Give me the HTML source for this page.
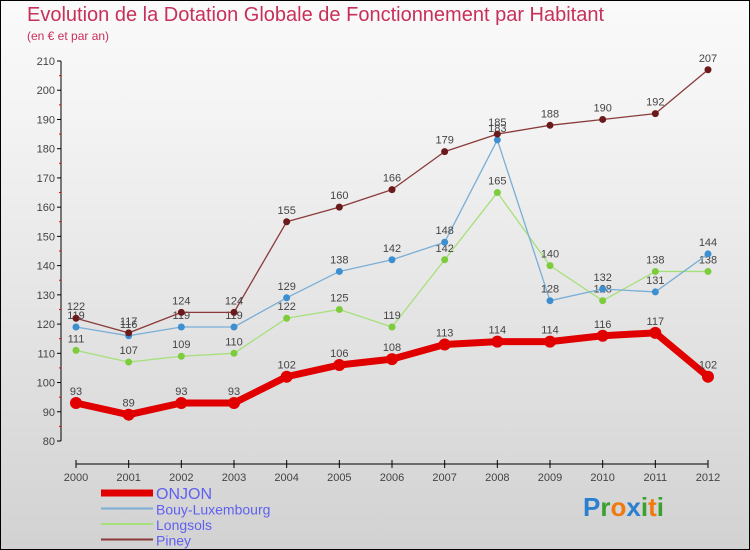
<!DOCTYPE html>
<html><head><meta charset="utf-8"><style>
html,body{margin:0;padding:0}
body{width:750px;height:550px;overflow:hidden;font-family:"Liberation Sans",sans-serif}
#wrap{position:relative;width:748px;height:548px;border:1px solid #000;background:linear-gradient(#fafafa,#f4f4f4 20%,#d2d2d2)}
.title{position:absolute;left:26px;top:3px;font-size:20px;color:#c8305a;white-space:nowrap}
.sub{position:absolute;left:26px;top:28px;font-size:12px;color:#c8305a}
</style></head><body>
<div id="wrap">
<div class="title">Evolution de la Dotation Globale de Fonctionnement par Habitant</div>
<div class="sub">(en € et par an)</div>
<svg id="chart" width="748" height="548" style="position:absolute;left:0;top:0"></svg>
</div>
<script>
const years=[2000,2001,2002,2003,2004,2005,2006,2007,2008,2009,2010,2011,2012];
const yTicks=[80,90,100,110,120,130,140,150,160,170,180,190,200,210];
const onjon=[93,89,93,93,102,106,108,113,114,114,116,117,102];
const bouy=[119,116,119,119,129,138,142,148,183,128,132,131,144];
const longsols=[111,107,109,110,122,125,119,142,165,140,128,138,138];
const piney=[122,117,124,124,155,160,166,179,185,188,190,192,207];
const seriesNames=["ONJON","Bouy-Luxembourg","Longsols","Piney"];

const NS="http://www.w3.org/2000/svg";
const svg=document.getElementById('chart');
const X=i=>75+i*(632/12);
const Y=v=>60+(210-v)*(380/130);
function mk(t,a,p){const e=document.createElementNS(NS,t);for(const k in a)e.setAttribute(k,a[k]);(p||svg).appendChild(e);return e;}

// axes
const ya=mk('line',{x1:60,y1:60,x2:60,y2:440,stroke:'#000','stroke-width':1});


yTicks.forEach(v=>{
  mk('line',{x1:56,y1:Y(v),x2:60,y2:Y(v),stroke:'#000'});
  if(v<210){mk('line',{x1:58,y1:Y(v+5),x2:60,y2:Y(v+5),stroke:'#e00'});}
  const t=mk('text',{x:54,y:Y(v)+4,'text-anchor':'end','font-size':11,fill:'#444'});
  t.textContent=v;
  
  
});
const xa=mk('line',{x1:75,y1:463,x2:707,y2:463,stroke:'#000'});


years.forEach((y,i)=>{
  mk('line',{x1:X(i),y1:459,x2:X(i),y2:467,stroke:'#000'});
  const t=mk('text',{x:X(i),y:480,'text-anchor':'middle','font-size':11,fill:'#444'});
  t.textContent=y;
  
  
});

function series(data,color,dot,w,r,name){
  const g=mk('g',{});
  
  
  mk('polyline',{points:data.map((v,i)=>X(i)+','+Y(v)).join(' '),fill:'none',stroke:color,'stroke-width':w,'stroke-linejoin':'round'},g);
  data.forEach((v,i)=>{
    const c=mk('circle',{cx:X(i),cy:Y(v),r:r,fill:dot},g);
    
    
    const t=mk('text',{x:X(i),y:Y(v)-8,'text-anchor':'middle','font-size':11,fill:'#444'},g);
    t.textContent=v;
    
    
  });
}
series(longsols,'#a6e07a','#7ccc3c',1.3,3.5,'longsols');
series(bouy,'#7aaed6','#3d8fd0',1.3,3.5,'bouy-luxembourg');
series(piney,'#8a3a3a','#6a1a1a',1.3,3.5,'piney');
series(onjon,'#e00000','#e00000',7,6,'onjon');

// legend
const leg=[['#e00000',7],['#7aaed6',2],['#a6e07a',2],['#8a3a3a',2]];
seriesNames.forEach((n,i)=>{
  const y=492+i*15.5;
  const l=mk('line',{x1:100,y1:y,x2:152,y2:y,stroke:leg[i][0],'stroke-width':leg[i][1]});
  
  
  const t=mk('text',{x:155,y:y+6,'font-size':i==0?16:14,fill:'#6060f0'});
  t.textContent=n;
  
  
});
// logo
const lg=mk('text',{x:582,y:515,'font-size':26,'font-weight':'bold','font-family':'Liberation Sans, sans-serif'});


[['P','#2a7fd0'],['r','#3aa030'],['o','#f07a10'],['x','#2a7fd0'],['i','#3aa030'],['t','#f07a10'],['i','#3aa030']].forEach(([c,f])=>{const s=mk('tspan',{fill:f},lg);s.textContent=c;});
</script>
</body></html>
